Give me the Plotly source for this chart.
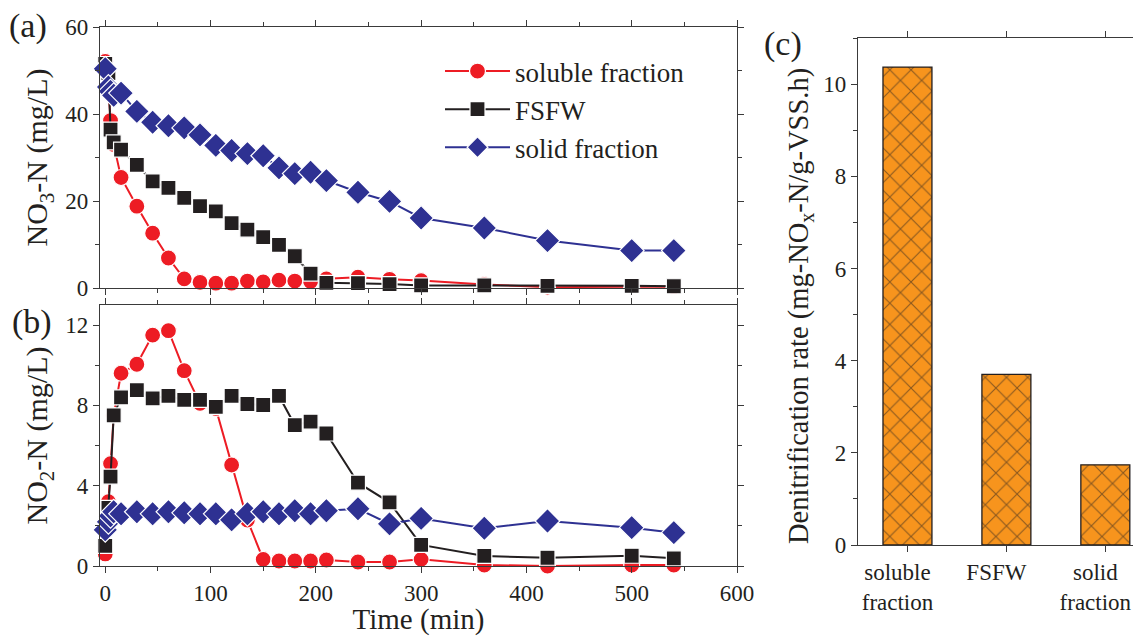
import plotly.graph_objects as go

# ---------------- data ----------------
t_sol = [0, 3, 5, 8, 15, 30, 45, 60, 75, 90, 105, 120, 135, 150, 165, 180, 195, 210, 240, 270, 300, 360, 420, 500, 540]
t_fsfw = [0, 3, 5, 8, 15, 30, 45, 60, 75, 90, 105, 120, 135, 150, 165, 180, 195, 210, 240, 270, 300, 360, 420, 500, 540]
t_solid = [0, 3, 5, 8, 15, 30, 45, 60, 75, 90, 105, 120, 135, 150, 165, 180, 195, 210, 240, 270, 300, 360, 420, 500, 540]

no3_sol = [52.1, 46.0, 38.5, 33.0, 25.4, 18.8, 12.6, 6.9, 2.1, 1.3, 1.1, 1.1, 1.6, 1.4, 1.8, 1.6, 1.5, 2.1, 2.5, 2.0, 1.7, 0.8, 0.2, 0.3, 0.3]
no3_fsfw = [51.5, 49.4, 36.4, 33.5, 31.8, 28.3, 24.5, 23.0, 20.7, 18.8, 17.6, 14.9, 13.4, 11.7, 9.9, 7.3, 3.3, 1.2, 1.1, 0.9, 0.6, 0.6, 0.5, 0.5, 0.4]
no3_solid = [50.4, 46.2, 45.2, 44.3, 44.8, 40.6, 38.1, 37.3, 36.8, 35.2, 32.8, 31.6, 30.9, 30.4, 27.6, 26.3, 26.6, 24.7, 22.0, 19.9, 16.1, 13.8, 10.9, 8.6, 8.6]

no2_sol = [0.6, 3.2, 5.1, 7.5, 9.6, 10.05, 11.5, 11.72, 9.73, 8.1, 7.85, 5.03, 2.29, 0.33, 0.25, 0.25, 0.25, 0.3, 0.2, 0.2, 0.33, 0.05, 0.0, 0.05, 0.05]
no2_fsfw = [1.0, 2.9, 4.45, 7.5, 8.4, 8.76, 8.35, 8.47, 8.27, 8.27, 7.93, 8.47, 8.07, 8.02, 8.47, 7.02, 7.19, 6.6, 4.15, 3.17, 1.05, 0.5, 0.41, 0.51, 0.38]
no2_solid = [1.8, 2.2, 2.5, 2.7, 2.6, 2.7, 2.6, 2.7, 2.65, 2.6, 2.6, 2.3, 2.6, 2.7, 2.6, 2.75, 2.6, 2.75, 2.85, 2.1, 2.37, 1.88, 2.24, 1.91, 1.66]

bar_categories = ["soluble fraction", "FSFW", "solid fraction"]
bar_tick_labels = ["soluble<br>fraction", "FSFW", "solid<br>fraction"]
denit_rate = [10.37, 3.70, 1.74]

series_names = ["soluble fraction", "FSFW", "solid fraction"]

# ---------------- styles ----------------
RED = "#ED1C24"
BLACK = "#231F20"
BLUE = "#2E3192"
ORANGE = "#F7941D"
AXC = "#3a3a3a"
FONT = "Liberation Serif"
OFF = 8                      # page body margin of the html
W, H = 1141 - OFF, 636 - OFF

styles = [
    dict(color=RED, symbol="circle", size=16),
    dict(color=BLACK, symbol="square", size=15),
    dict(color=BLUE, symbol="diamond", size=19),
]

fig = go.Figure()

def add_series(x, y, st, name, xa, ya, show):
    fig.add_trace(go.Scatter(
        x=x, y=y, mode="lines+markers", name=name, legendgroup=name,
        showlegend=show, xaxis=xa, yaxis=ya, cliponaxis=False,
        line=dict(color=st["color"], width=2),
        marker=dict(color=st["color"], symbol=st["symbol"], size=st["size"],
                    line=dict(color="white", width=1.2)),
    ))

times = [t_sol, t_fsfw, t_solid]
no3 = [no3_sol, no3_fsfw, no3_solid]
no2 = [no2_sol, no2_fsfw, no2_solid]
for i in range(3):
    add_series(times[i], no3[i], styles[i], series_names[i], "x", "y", True)
for i in range(3):
    add_series(times[i], no2[i], styles[i], series_names[i], "x2", "y2", False)

fig.add_trace(go.Bar(
    x=bar_categories, y=denit_rate, width=0.495, xaxis="x3", yaxis="y3",
    showlegend=False,
    marker=dict(color=ORANGE, line=dict(color=BLACK, width=1.3),
                pattern=dict(shape="x", bgcolor=ORANGE, fgcolor=BLACK,
                             size=15, solidity=0.15)),
))

def sx(px):
    return (px - OFF) / W

def sy(py):
    return 1 - (py - OFF) / H

def dom_x(a, b):
    return [sx(a), sx(b)]

def dom_y(top, bottom):
    return [sy(bottom), sy(top)]

common = dict(showline=True, linecolor=AXC, linewidth=1.2, mirror="ticks",
              ticks="outside", ticklen=6, tickwidth=1.2, tickcolor=AXC,
              showgrid=False, zeroline=False, automargin=False)
minor_t = dict(ticks="outside", ticklen=4, tickwidth=1.2, tickcolor=AXC)

fig.update_layout(
    width=W, height=H, margin=dict(l=0, r=0, t=0, b=0, autoexpand=False),
    paper_bgcolor="white", plot_bgcolor="white",
    font=dict(family=FONT, color="#231F20", size=23),
    xaxis=dict(domain=dom_x(100, 737), anchor="y", range=[-5, 600],
               dtick=100, tick0=0, showticklabels=False,
               minor=dict(dtick=50, **minor_t), **common),
    yaxis=dict(domain=dom_y(27, 288), anchor="x", range=[0, 60],
               dtick=20, minor=dict(dtick=10, **minor_t),
               title=dict(text="NO<sub>3</sub>-N (mg/L)", font=dict(size=30, family=FONT), standoff=8),
               **common),
    xaxis2=dict(domain=dom_x(100, 737), anchor="y2", range=[-5, 600],
                dtick=100, tick0=0, minor=dict(dtick=50, **minor_t),
                title=dict(text="Time (min)", font=dict(size=29, family=FONT), standoff=9),
                **common),
    yaxis2=dict(domain=dom_y(305, 566), anchor="x2", range=[0, 13],
                tickvals=[0, 4, 8, 12], minor=dict(tickvals=[2, 6, 10], **minor_t),
                title=dict(text="NO<sub>2</sub>-N (mg/L)", font=dict(size=30, family=FONT), standoff=8),
                **common),
    xaxis3=dict(domain=dom_x(858, 1136), anchor="y3", range=[-0.5, 2.31],
                tickvals=bar_categories, ticktext=bar_tick_labels, type="category",
                ticklabelshift=-10, **common),
    yaxis3=dict(domain=dom_y(38, 545), anchor="x3", range=[0, 11],
                dtick=2, minor=dict(dtick=1, **minor_t),
                **common),
    legend=dict(x=sx(440), y=sy(47), xanchor="left", yanchor="top",
                bgcolor="rgba(0,0,0,0)", font=dict(family=FONT, size=27),
                itemwidth=65, traceorder="grouped", tracegroupgap=0),
    annotations=[
        dict(text="(a)", x=sx(28), y=sy(26), xref="paper", yref="paper",
             xanchor="center", yanchor="middle",
             showarrow=False, font=dict(family=FONT, size=34)),
        dict(text="(b)", x=sx(32), y=sy(322), xref="paper", yref="paper",
             xanchor="center", yanchor="middle",
             showarrow=False, font=dict(family=FONT, size=34)),
        dict(text="(c)", x=sx(783), y=sy(44), xref="paper", yref="paper",
             xanchor="center", yanchor="middle",
             showarrow=False, font=dict(family=FONT, size=34)),
        dict(text="Denitrification rate (mg-NO<sub>x</sub>-N/g-VSS.h)",
             x=sx(800), y=sy(306), xref="paper", yref="paper", textangle=-90,
             xanchor="center", yanchor="middle",
             showarrow=False, font=dict(family=FONT, size=28.5)),
    ],
)
fig.update_xaxes(tickfont=dict(family="Times New Roman", size=23, color="#231F20"))
fig.update_yaxes(tickfont=dict(family="Times New Roman", size=23, color="#231F20"))

fig.write_html("out.html")
